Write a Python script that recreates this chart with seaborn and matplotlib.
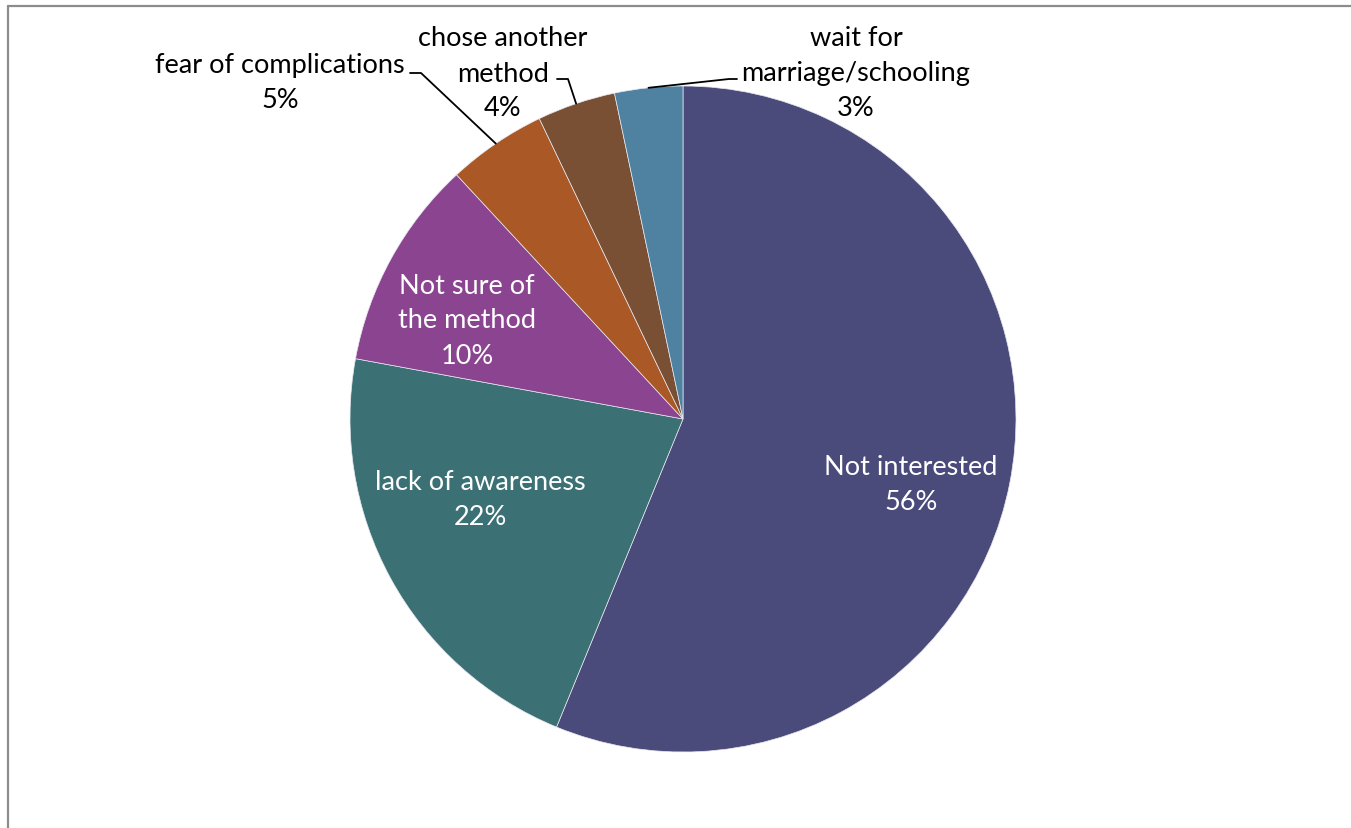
import matplotlib
matplotlib.use("Agg")

import matplotlib.pyplot as plt
import numpy as np
import seaborn as sns

# ── Data ──────────────────────────────────────────────────────────────────────
reasons = [
    "Not interested",
    "lack of awareness",
    "Not sure of\nthe method",
    "fear of complications",
    "chose another\nmethod",
    "wait for\nmarriage/schooling",
]
shares = [56.2, 21.7, 10.2, 4.8, 3.8, 3.3]
pct_labels = ["56%", "22%", "10%", "5%", "4%", "3%"]
colors = ["#4a4a7b", "#3b7174", "#8a4490", "#ab5827", "#7a5035", "#4f81a1"]

# ── Style ─────────────────────────────────────────────────────────────────────
sns.set_style("white")
plt.rcParams["font.family"] = ["Lato", "DejaVu Sans"]

W, H = 1351, 829
fig = plt.figure(figsize=(W / 100, H / 100), dpi=100)
ax = fig.add_axes([0, 0, 1, 1])


def py(y):
    """pixel row (top-down) -> data y"""
    return H - y


cx, cy, r = 683, py(420), 333
wedges, _ = ax.pie(
    shares, colors=colors, startangle=90, counterclock=False,
    center=(cx, cy), radius=r, frame=True,
    wedgeprops=dict(edgecolor="#e8e8f0", linewidth=0.5),
)
ax.set_xlim(0, W)
ax.set_ylim(0, H)
ax.set_aspect("equal")
ax.axis("off")

# label placement (pixel positions of text centres), inside = white text
label_pos = [(911, 485), (480, 500), (467, 321), (280, 83), (503, 74), (856, 74)]
inside = [True, True, True, False, False, False]
FS = 19.5
for name, pct, (lx, ly), inn in zip(reasons, pct_labels, label_pos, inside):
    ax.text(lx, py(ly), f"{name}\n{pct}", ha="center", va="center",
            fontsize=FS, color="white" if inn else "black", linespacing=1.5)

# leader lines for the small outside slices: slice index -> elbow points
leaders = {
    3: [(410, 74), (421, 74)],
    4: [(557, 80), (568, 80)],
    5: [(737, 80), (729, 80)],
}
for idx, elbow in leaders.items():
    w = wedges[idx]
    ang = np.deg2rad(0.5 * (w.theta1 + w.theta2))
    ex, ey = cx + r * np.cos(ang), cy + r * np.sin(ang)
    xs = [p[0] for p in elbow] + [ex]
    ys = [py(p[1]) for p in elbow] + [ey]
    ax.plot(xs, ys, color="black", lw=1.3)

# chart frame (left and top edges visible)
ax.plot([8, 8], [0, py(7)], color="#8c8c8c", lw=1.6)
ax.plot([8, W], [py(7), py(7)], color="#8c8c8c", lw=1.6)

fig.savefig("out.png", dpi=100)
